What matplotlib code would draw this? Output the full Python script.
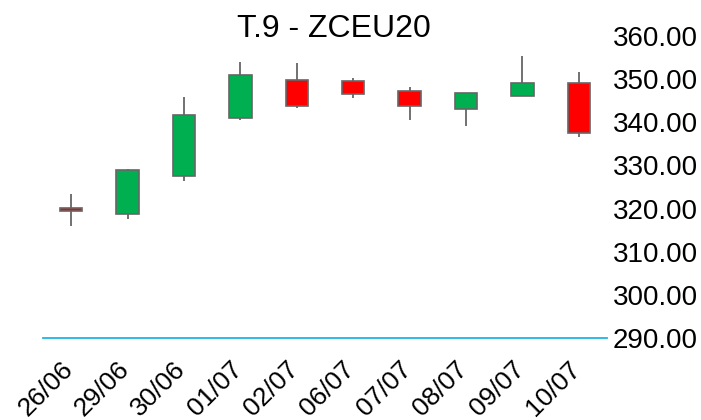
import matplotlib
matplotlib.use("Agg")
import matplotlib.pyplot as plt
import matplotlib.transforms as mtransforms
import numpy as np

plt.rcParams['font.family'] = ['Liberation Sans', 'DejaVu Sans']

dates = ["26/06", "29/06", "30/06", "01/07", "02/07", "06/07", "07/07", "08/07", "09/07", "10/07"]
opens = [319.9, 318.8, 327.5, 341.0, 349.9, 349.6, 347.3, 343.0, 346.2, 349.0]
highs = [323.3, 329.2, 345.9, 354.0, 353.7, 350.2, 348.2, 346.9, 355.4, 351.7]
lows = [316.0, 317.5, 326.4, 340.5, 343.4, 345.6, 340.5, 339.2, 346.0, 336.7]
closes = [319.6, 328.9, 341.8, 350.9, 343.7, 346.6, 343.7, 346.7, 349.0, 337.6]
title = "T.9 - ZCEU20"
yticks = [290, 300, 310, 320, 330, 340, 350, 360]

W, H = 701, 420
fig = plt.figure(figsize=(W / 100, H / 100), dpi=100)
ax = fig.add_axes([43 / W, (H - 338) / H, (607 - 43) / W, (338 - 36) / H])

x = np.arange(len(dates))
o = np.array(opens); c = np.array(closes)
colors = ['#00b050' if cc >= oo else '#ff0000' for oo, cc in zip(o, c)]
bottoms = np.minimum(o, c)
heights = np.maximum(np.abs(c - o), 0.75)
bottoms = np.where(np.abs(c - o) < 0.75, (o + c) / 2 - 0.375, bottoms)

ax.vlines(x, lows, highs, color='#666666', linewidth=1.3, zorder=2)
ax.bar(x, heights, bottom=bottoms, width=0.4, color=colors, edgecolor='#666666',
       linewidth=1.2, zorder=3)

ax.set_xlim(-0.5, len(dates) - 0.5)
ax.set_ylim(290, 360)
for s in ['top', 'left', 'right']:
    ax.spines[s].set_visible(False)
ax.spines['bottom'].set_color('#1fb4e6')
ax.spines['bottom'].set_linewidth(1.3)

ax.yaxis.tick_right()
ax.set_yticks(yticks)
ax.set_yticklabels([f"{v:.2f}" for v in yticks], fontsize=20)
ax.tick_params(axis='y', length=0, pad=4)
ax.set_xticks(x)
ax.set_xticklabels(dates, fontsize=19, rotation=45, ha='right', va='center',
                   rotation_mode='anchor')
ax.tick_params(axis='x', length=0, pad=19.5)
offset = mtransforms.ScaledTranslation(-2 / 100, 0, fig.dpi_scale_trans)
for lbl in ax.get_xticklabels():
    lbl.set_transform(lbl.get_transform() + offset)

fig.text(334 / W, (H - 37) / H, title, fontsize=23, ha='center', va='baseline')

fig.savefig("out.png", dpi=100)
